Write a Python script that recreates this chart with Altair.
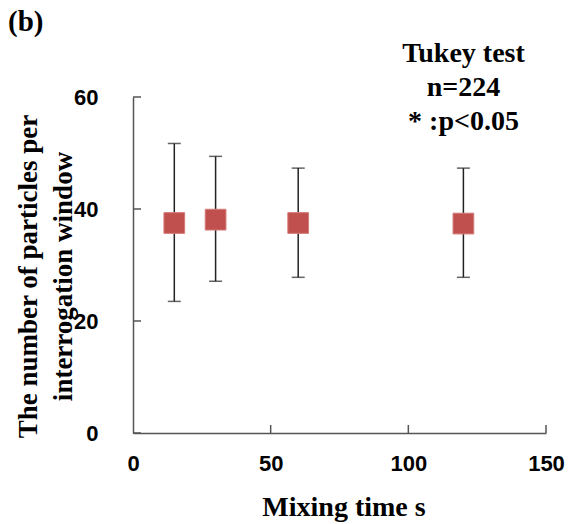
import altair as alt
import pandas as pd

# ---- data ----
mixing_time = [15, 30, 60, 120]
mean_count = [37.5, 38.1, 37.5, 37.4]
lower = [23.5, 27.1, 27.8, 27.8]
upper = [51.7, 49.4, 47.3, 47.3]
x_ticks = [0, 50, 100, 150]
y_ticks = [0, 20, 40, 60]
x_title = "Mixing time s"
y_title = ["The number of particles per", "interrogation window"]
annotation = ["Tukey test", "n=224", "* :p<0.05"]
panel_label = "(b)"

W, H = 413, 336
SERIF = "Liberation Serif"
SANS = "Liberation Sans"
AXIS_COLOR = "#555555"

df = pd.DataFrame({"t": mixing_time, "m": mean_count, "lo": lower, "hi": upper})
xt = pd.DataFrame({"v": x_ticks[1:]})
yt = pd.DataFrame({"v": y_ticks})

xscale = alt.Scale(domain=[0, 150], nice=False, zero=False)
yscale = alt.Scale(domain=[0, 60], nice=False, zero=False)

x_axis = alt.Axis(
    values=x_ticks, title=x_title, grid=False, ticks=False, tickSize=0,
    domainColor=AXIS_COLOR, domainWidth=1.5,
    labelFont=SANS, labelFontWeight="bold", labelFontSize=22, labelColor="black",
    labelPadding=20, labelFlush=False,
    titleFont=SERIF, titleFontWeight="bold", titleFontSize=28, titleColor="black",
    titleBaseline="alphabetic", titleY=82, titleX=W / 2 + 4,
)
y_axis = alt.Axis(
    values=y_ticks, title=y_title, grid=False, ticks=False, tickSize=0,
    domainColor=AXIS_COLOR, domainWidth=1.5,
    labelFont=SANS, labelFontWeight="bold", labelFontSize=22, labelColor="black",
    labelPadding=35, labelFlush=False,
    titleFont=SERIF, titleFontWeight="bold", titleFontSize=27, titleColor="black",
    titleAngle=270, titleAlign="center", titleBaseline="alphabetic",
    titleLineHeight=35, titleX=-97, titleY=179,
)


def X(field):
    return alt.X(field, type="quantitative", scale=xscale, axis=x_axis)


def Y(field):
    return alt.Y(field, type="quantitative", scale=yscale, axis=y_axis)


base = alt.Chart(df)

bars = base.mark_rule(color="#222222", strokeWidth=1.5).encode(
    x=X("t"), y=Y("lo"), y2="hi:Q",
)
cap_hi = base.mark_tick(orient="horizontal", color="#222222", size=13, thickness=1.5).encode(
    x=X("t"), y=Y("hi"),
)
cap_lo = base.mark_tick(orient="horizontal", color="#222222", size=13, thickness=1.5).encode(
    x=X("t"), y=Y("lo"),
)
pts = base.mark_square(size=430, fill="#C0504D", stroke="#D47B78", strokeWidth=1, opacity=1).encode(
    x=X("t"), y=Y("m"),
)

ytick_marks = alt.Chart(yt).mark_rule(color=AXIS_COLOR, strokeWidth=1.5).encode(
    y=Y("v"), x=alt.value(0), x2=alt.value(8),
)
xtick_marks = alt.Chart(xt).mark_rule(color=AXIS_COLOR, strokeWidth=1.5).encode(
    x=X("v"), y=alt.value(H), y2=alt.value(H - 8),
)

note = alt.Chart(pd.DataFrame({"a": [0]})).mark_text(
    text=annotation, font=SERIF, fontWeight="bold", fontSize=28, color="black",
    align="center", baseline="alphabetic", lineHeight=34,
).encode(x=alt.value(330.5), y=alt.value(-35))

panel = alt.Chart(pd.DataFrame({"a": [0]})).mark_text(
    text=panel_label, font=SERIF, fontWeight="bold", fontSize=29, color="black",
    align="left", baseline="alphabetic",
).encode(x=alt.value(-125), y=alt.value(-66))

chart = alt.layer(
    bars, cap_hi, cap_lo, pts, ytick_marks, xtick_marks, note, panel
).properties(
    width=W, height=H,
    autosize=alt.AutoSizeParams(type="none"),
    padding={"left": 133, "top": 97, "right": 24, "bottom": 91},
    background="white",
).configure_view(stroke=None)

chart.save("out.html", embed_options={"renderer": "svg", "actions": False})
